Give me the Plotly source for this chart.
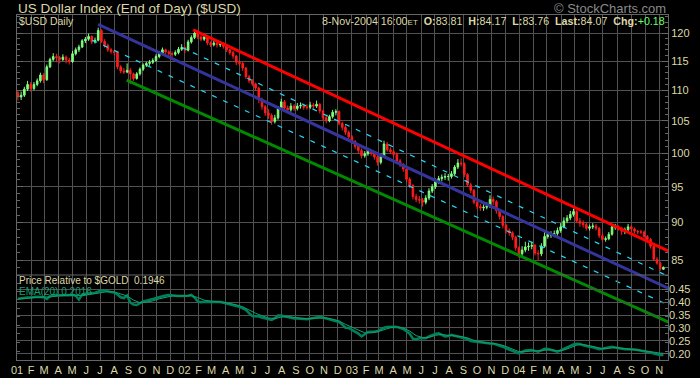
import math
import pandas as pd
import plotly.graph_objects as go

# ---------------- data (weekly bars) ----------------
open_ = [109.6,108.9,109.2,110.2,111.0,110.3,111.0,111.6,112.6,111.8,
         114.0,115.3,115.8,115.6,115.3,115.7,115.2,114.9,116.3,117.0,
         117.5,118.6,118.9,119.4,118.4,118.7,120.5,118.5,117.8,117.0,
         116.7,116.5,114.0,113.3,113.1,113.4,112.8,112.0,112.8,113.6,
         114.3,114.6,114.8,115.1,115.8,116.4,117.0,116.6,116.3,116.2,
         116.5,117.1,117.4,116.9,118.4,119.2,120.0,119.3,118.9,119.3,
         118.2,117.9,118.2,117.9,118.0,117.6,117.0,116.5,115.9,114.8,
         114.6,113.8,112.3,111.6,111.1,110.4,108.5,107.3,106.3,105.9,
         104.9,105.5,107.0,108.1,107.1,106.8,107.4,107.0,107.4,107.5,
         107.2,107.2,107.6,107.4,107.7,106.6,105.5,105.0,105.7,106.4,
         106.5,104.6,104.0,103.2,102.5,101.8,101.0,100.4,99.6,99.9,
         100.2,100.0,99.4,98.6,99.5,101.4,100.5,100.2,99.8,98.8,
         98.3,97.6,96.1,95.2,93.6,93.2,93.1,92.8,93.4,94.4,
         95.0,95.8,96.2,96.4,96.5,96.5,96.9,97.9,98.5,98.4,
         96.8,95.3,94.5,92.8,92.2,92.0,92.1,92.3,93.2,92.9,
         91.6,90.8,89.6,88.9,88.6,88.0,86.6,85.8,86.3,86.7,
         86.8,86.9,85.9,85.8,86.8,88.1,88.3,88.3,88.5,88.9,
         89.4,90.2,90.6,91.1,91.5,90.2,89.9,89.7,89.2,89.4,
         89.5,89.2,88.2,87.7,87.8,88.4,89.4,89.4,89.2,88.8,
         89.0,89.4,89.1,88.8,88.7,88.7,88.1,87.7,86.8,85.1,
         84.6,83.81]
high = [110.0,109.8,110.6,111.6,111.4,111.4,112.0,113.0,112.9,114.4,
        115.6,116.4,116.3,115.9,116.2,116.0,115.6,116.8,117.4,117.9,
        118.9,119.3,119.9,119.6,119.2,121.0,120.7,118.9,118.1,117.3,
        117.0,116.6,114.3,113.8,114.6,113.8,113.0,113.1,113.9,114.6,
        114.9,115.2,115.5,116.2,116.8,117.4,117.2,116.9,116.7,116.9,
        117.5,118.0,117.6,118.8,119.6,120.6,120.3,119.6,119.8,119.5,
        118.5,118.7,118.5,118.4,118.3,117.8,117.2,116.8,116.1,115.2,
        114.9,114.0,112.6,111.9,111.3,110.6,108.8,107.6,106.9,106.2,
        106.0,107.4,108.6,108.4,107.5,107.9,107.7,107.9,108.0,107.8,
        107.7,108.1,107.9,108.3,107.9,106.8,105.8,106.0,106.8,106.9,
        106.7,104.9,104.3,103.5,102.8,102.0,101.3,100.7,100.3,100.7,
        100.5,100.3,99.7,99.9,101.9,101.7,100.9,100.5,100.1,99.1,
        98.5,97.8,96.4,95.4,94.0,93.7,93.4,93.8,94.8,95.4,
        96.2,96.6,96.8,97.0,96.9,97.3,98.2,99.1,99.2,98.6,
        97.0,95.6,94.7,93.2,92.6,92.5,92.8,93.8,93.6,93.1,
        91.8,91.0,89.8,89.2,88.8,88.2,86.8,86.8,87.4,87.3,
        87.4,87.1,86.3,87.2,88.7,88.6,88.8,88.9,89.3,89.9,
        90.7,91.0,91.6,91.9,91.7,90.6,90.3,90.0,89.7,89.9,
        89.8,89.4,88.5,88.1,88.7,89.7,89.8,89.6,89.4,89.3,
        89.8,89.6,89.3,89.0,89.0,88.9,88.3,87.9,87.0,85.4,
        84.8,84.17]
low = [108.3,108.4,108.9,109.9,109.8,110.0,110.7,111.3,111.2,111.6,
       113.8,115.0,114.8,114.6,115.0,114.6,114.4,114.7,116.0,116.6,
       117.3,118.2,118.6,118.0,118.1,118.5,118.2,117.4,116.6,116.3,
       116.0,113.6,112.9,112.8,112.9,111.1,111.6,111.8,112.5,113.3,
       114.0,114.2,114.5,114.9,115.5,116.1,116.2,115.9,115.7,115.9,
       116.2,116.8,116.4,116.7,118.1,118.9,118.9,118.5,118.6,117.8,
       117.5,117.6,117.4,117.5,117.2,116.6,116.1,115.4,114.3,114.2,
       113.3,111.9,111.2,110.7,109.9,107.9,106.8,105.8,105.3,104.4,
       104.6,105.2,106.8,106.7,106.3,106.5,106.6,106.7,107.0,106.8,
       106.8,106.9,107.0,107.1,106.2,105.1,104.6,104.8,105.4,105.9,
       104.3,103.5,102.8,102.1,101.4,100.6,100.0,99.2,99.3,99.6,
       99.6,99.0,98.1,98.3,99.3,100.2,99.9,99.4,98.4,97.9,
       97.2,95.7,94.8,93.2,92.8,92.6,92.2,92.5,93.1,94.1,
       94.7,95.4,95.8,96.0,95.9,96.2,96.7,97.6,98.0,96.4,
       95.0,94.1,92.5,91.8,91.6,91.6,91.8,92.0,92.4,91.2,
       90.4,89.2,88.5,88.2,87.6,86.2,85.3,85.5,86.0,86.2,
       86.4,85.6,85.0,85.5,86.6,87.8,87.9,88.0,88.2,88.6,
       89.2,89.9,90.3,90.8,89.9,89.4,89.3,88.9,88.9,89.1,
       88.9,87.9,87.4,87.4,87.6,88.2,89.0,88.9,88.3,88.4,
       88.8,88.8,88.5,88.4,88.4,87.9,87.4,86.5,84.9,84.4,
       83.6,83.76]
close = [108.9,109.2,110.2,111.0,110.3,111.0,111.6,112.6,111.8,114.0,
         115.3,115.8,115.6,115.3,115.7,115.2,114.9,116.3,117.0,117.5,
         118.6,118.9,119.4,118.4,118.7,120.5,118.5,117.8,117.0,116.7,
         116.5,114.0,113.3,113.1,113.4,112.8,112.0,112.8,113.6,114.3,
         114.6,114.8,115.1,115.8,116.4,117.0,116.6,116.3,116.2,116.5,
         117.1,117.4,116.9,118.4,119.2,120.0,119.3,118.9,119.3,118.2,
         117.9,118.2,117.9,118.0,117.6,117.0,116.5,115.9,114.8,114.6,
         113.8,112.3,111.6,111.1,110.4,108.5,107.3,106.3,105.9,104.9,
         105.5,107.0,108.1,107.1,106.8,107.4,107.0,107.4,107.5,107.2,
         107.2,107.6,107.4,107.7,106.6,105.5,105.0,105.7,106.4,106.5,
         104.6,104.0,103.2,102.5,101.8,101.0,100.4,99.6,99.9,100.2,
         100.0,99.4,98.6,99.5,101.4,100.5,100.2,99.8,98.8,98.3,
         97.6,96.1,95.2,93.6,93.2,93.1,92.8,93.4,94.4,95.0,
         95.8,96.2,96.4,96.5,96.5,96.9,97.9,98.5,98.4,96.8,
         95.3,94.5,92.8,92.2,92.0,92.1,92.3,93.2,92.9,91.6,
         90.8,89.6,88.9,88.6,88.0,86.6,85.8,86.3,86.7,86.8,
         86.9,85.9,85.8,86.8,88.1,88.3,88.3,88.5,88.9,89.4,
         90.2,90.6,91.1,91.5,90.2,89.9,89.7,89.2,89.4,89.5,
         89.2,88.2,87.7,87.8,88.4,89.4,89.4,89.2,88.8,89.0,
         89.4,89.1,88.8,88.7,88.7,88.1,87.7,86.8,85.1,84.6,
         83.89,84.07]

rel_gold = [0.413,0.415,0.417,0.418,0.418,0.420,0.421,0.420,0.419,0.412,
            0.424,0.428,0.427,0.428,0.427,0.428,0.427,0.429,0.425,0.410,
            0.430,0.433,0.434,0.434,0.437,0.441,0.446,0.445,0.441,0.439,
            0.437,0.430,0.419,0.416,0.426,0.398,0.391,0.389,0.396,0.403,
            0.406,0.408,0.412,0.416,0.420,0.424,0.426,0.428,0.426,0.424,
            0.424,0.424,0.424,0.425,0.428,0.418,0.403,0.400,0.402,0.402,
            0.402,0.402,0.402,0.401,0.398,0.395,0.391,0.388,0.386,0.382,
            0.376,0.370,0.357,0.346,0.345,0.344,0.340,0.337,0.334,0.331,
            0.338,0.348,0.348,0.345,0.342,0.338,0.337,0.337,0.337,0.335,
            0.334,0.336,0.338,0.342,0.343,0.340,0.337,0.334,0.331,0.327,
            0.323,0.313,0.301,0.300,0.293,0.287,0.278,0.267,0.275,0.284,
            0.285,0.285,0.288,0.296,0.301,0.304,0.305,0.305,0.304,0.301,
            0.296,0.287,0.277,0.258,0.256,0.260,0.260,0.260,0.267,0.273,
            0.277,0.279,0.274,0.267,0.269,0.273,0.270,0.267,0.264,0.262,
            0.257,0.249,0.247,0.247,0.245,0.242,0.240,0.240,0.239,0.236,
            0.233,0.227,0.221,0.217,0.213,0.206,0.201,0.207,0.212,0.213,
            0.214,0.211,0.208,0.213,0.219,0.218,0.214,0.211,0.208,0.213,
            0.219,0.224,0.231,0.236,0.239,0.238,0.233,0.229,0.227,0.225,
            0.220,0.217,0.219,0.221,0.224,0.227,0.224,0.221,0.219,0.217,
            0.217,0.217,0.216,0.214,0.212,0.211,0.209,0.205,0.201,0.197,
            0.195,0.1946]

# EMA(20) read every second week, plus the last day
ema20 = [0.412,0.415,0.417,0.419,0.420,0.420,0.424,0.426,0.427,0.427,
         0.425,0.429,0.433,0.438,0.441,0.440,0.432,0.424,0.408,0.398,
         0.400,0.405,0.413,0.419,0.424,0.424,0.424,0.425,0.418,0.408,
         0.404,0.402,0.400,0.395,0.390,0.382,0.369,0.357,0.347,0.339,
         0.336,0.342,0.344,0.340,0.338,0.336,0.337,0.340,0.339,0.334,
         0.327,0.314,0.302,0.290,0.281,0.281,0.285,0.293,0.301,0.304,
         0.300,0.288,0.270,0.263,0.263,0.271,0.275,0.271,0.270,0.267,
         0.261,0.252,0.247,0.242,0.240,0.236,0.228,0.218,0.208,0.208,
         0.211,0.211,0.214,0.216,0.211,0.214,0.223,0.233,0.236,0.231,
         0.225,0.220,0.221,0.224,0.221,0.218,0.217,0.214,0.211,0.206,
         0.202,0.2016]

# trend lines drawn on the chart: (dates, prices)
red_line_dates = ["2002-01-20", "2004-11-30"]
red_line_prices = [120.6, 85.91]
blue_line_dates = ["2001-06-27", "2004-11-24"]
blue_line_prices = [121.6, 81.34]
green_line_dates = ["2001-08-28", "2004-11-24"]
green_line_prices = [111.74, 77.27]
cyan_upper_dates = ["2001-12-27", "2004-11-19"]
cyan_upper_prices = [117.4, 82.96]
cyan_lower_dates = ["2001-06-14", "2004-11-19"]
cyan_lower_prices = [118.7, 79.42]

price_ticks = [85, 90, 95, 100, 105, 110, 115, 120]
rel_ticks = [0.20, 0.25, 0.30, 0.35, 0.40, 0.45]
month_letters = ["J", "F", "M", "A", "M", "J", "J", "A", "S", "O", "N", "D"]

title_text = "US Dollar Index (End of Day) ($USD)"
last_date = "8-Nov-2004 16:00"
ohlc_last = {"O": "83.81", "H": "84.17", "L": "83.76", "Last": "84.07"}
chg_text = "+0.18"
rel_label = "Price Relative to $GOLD\u00a0\u00a00.1946"
ema_label = "EMA(20) 0.2016"

# ---------------- build ----------------
week_dates = pd.date_range("2001-01-03", periods=len(close), freq="7D")
ema_dates = list(week_dates[0:len(close) - 1:2]) + [week_dates[-1]]
month_starts = pd.date_range("2001-01-01", "2004-11-01", freq="MS")
month_labels = [f"{d.year % 100:02d}" if d.month == 1 else month_letters[d.month - 1]
                for d in month_starts]

FONT = "Liberation Sans, Arial, sans-serif"
TXT = "#dcd8a8"
GRID = "#525252"
AXIS = "#666666"

fig = go.Figure()

fig.add_trace(go.Candlestick(
    x=week_dates, open=open_, high=high, low=low, close=close,
    increasing=dict(line=dict(color="#80ff80", width=1), fillcolor="#80ff80"),
    decreasing=dict(line=dict(color="#ff1c1c", width=1), fillcolor="#ff1c1c"),
    whiskerwidth=0, hoverinfo="skip", showlegend=False, yaxis="y"))

for d, p, col, w, dash in [
        (cyan_upper_dates, cyan_upper_prices, "#22dcff", 1.2, "5px,7px"),
        (cyan_lower_dates, cyan_lower_prices, "#22dcff", 1.2, "5px,7px"),
        (green_line_dates, green_line_prices, "#008a00", 3, "solid"),
        (blue_line_dates, blue_line_prices, "#34349c", 3, "solid"),
        (red_line_dates, red_line_prices, "#ff0000", 3, "solid")]:
    fig.add_trace(go.Scatter(x=d, y=p, mode="lines", yaxis="y",
                             line=dict(color=col, width=w, dash=dash),
                             hoverinfo="skip", showlegend=False))

fig.add_trace(go.Scatter(x=week_dates, y=rel_gold, mode="lines", yaxis="y2",
                         line=dict(color="#00805a", width=2.5),
                         hoverinfo="skip", showlegend=False))
fig.add_trace(go.Scatter(x=ema_dates, y=ema20, mode="lines", yaxis="y2",
                         line=dict(color="#10a070", width=1),
                         hoverinfo="skip", showlegend=False))

L, R, T, B = 17, 32, 15, 18
W, H = 700, 378
ph = H - T - B
pw = W - L - R
rel_top_px = 275
rel_dom = (H - B - rel_top_px) / ph


def py(pix):  # pixel row -> paper y
    return (H - B - pix) / ph


def px(pix):  # pixel column -> paper x
    return (pix - L) / pw


fig.update_layout(
    width=W, height=H, margin=dict(l=L, r=R, t=T, b=B, autoexpand=False),
    paper_bgcolor="#000000", plot_bgcolor="rgba(0,0,0,0)", showlegend=False,
    font=dict(family=FONT, color=TXT, size=11),
    xaxis=dict(type="date", range=["2001-01-01", "2004-11-20"], automargin=False,
               tickmode="array", tickvals=month_starts, ticktext=month_labels,
               showgrid=True, gridcolor=GRID, gridwidth=1,
               showline=True, linecolor=AXIS, linewidth=1, mirror=True,
               ticks="", tickfont=dict(color=TXT, size=11, family=FONT),
               rangeslider=dict(visible=False), zeroline=False, fixedrange=True),
    yaxis=dict(type="log", range=[math.log10(73.02), math.log10(123.35)],
               automargin=False, side="right", tickmode="array", tickvals=price_ticks,
               ticktext=[str(t) for t in price_ticks],
               showgrid=True, gridcolor=GRID, gridwidth=1,
               showline=True, linecolor=AXIS, mirror="ticks",
               ticks="inside", ticklen=6, tickcolor=AXIS,
               minor=dict(tickmode="array", tickvals=list(range(74, 124)),
                          ticks="inside", ticklen=3, tickcolor=AXIS, showgrid=False),
               tickfont=dict(color=TXT, size=11, family=FONT), zeroline=False),
    yaxis2=dict(domain=[0, rel_dom], anchor="x", side="right", automargin=False,
                range=[0.1755, 0.5055], tickmode="array", tickvals=rel_ticks,
                ticktext=[f"{t:.2f}" for t in rel_ticks],
                showgrid=True, gridcolor=GRID, gridwidth=1,
                showline=False, ticks="inside", ticklen=6, tickcolor=AXIS,
                tickfont=dict(color=TXT, size=11, family=FONT), zeroline=False),
    shapes=[dict(type="line", xref="paper", yref="paper", x0=0, x1=1,
                 y0=rel_dom, y1=rel_dom, line=dict(color=AXIS, width=1))],
)

header = (f"{last_date}<span style='font-size:8px'>ET</span>\u00a0\u00a0"
          f"<b>O:</b>{ohlc_last['O']}\u00a0\u00a0<b>H:</b>{ohlc_last['H']}\u00a0\u00a0"
          f"<b>L:</b>{ohlc_last['L']}\u00a0\u00a0<b>Last:</b>{ohlc_last['Last']}\u00a0\u00a0"
          f"<b>Chg:</b><span style='color:#66ff66'>{chg_text}</span>")

anns = [
    dict(text=title_text, x=px(17), y=py(8), xanchor="left", yanchor="middle",
         font=dict(size=13.5, color=TXT, family=FONT)),
    dict(text="\u00a9 StockCharts.com", x=px(667), y=py(8), xanchor="right", yanchor="middle",
         font=dict(size=13, color="#8a8a8a", family=FONT)),
    dict(text="$USD Daily", x=px(18), y=py(21), xanchor="left", yanchor="middle",
         font=dict(size=10.5, color=TXT, family=FONT)),
    dict(text=header, x=px(666), y=py(21), xanchor="right", yanchor="middle",
         font=dict(size=10.7, color=TXT, family=FONT)),
    dict(text=rel_label, x=px(18), y=py(280.5), xanchor="left", yanchor="middle",
         font=dict(size=10, color=TXT, family=FONT)),
    dict(text=ema_label, x=px(18), y=py(291), xanchor="left", yanchor="middle",
         font=dict(size=10, color="#10a070", family=FONT)),
]
for a in anns:
    a.update(xref="paper", yref="paper", showarrow=False, borderpad=0)
fig.update_layout(annotations=anns)

fig.write_html("out.html",
               config={"displayModeBar": False, "staticPlot": True},
               post_script="document.body.style.margin='0px';"
                           "document.body.style.padding='0px';"
                           "document.body.style.background='#000';")
